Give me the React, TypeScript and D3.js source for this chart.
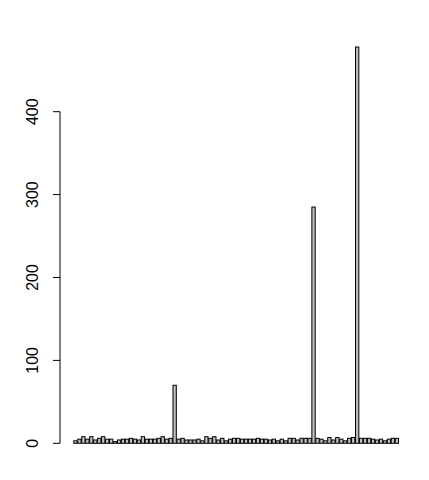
import React from "react";
import * as d3 from "d3";

const valuesA = [3, 5, 8, 5, 8, 4, 6, 8, 5, 5, 2, 4, 5, 5, 6, 5, 4, 8, 5, 5, 5, 6, 8, 5, 6];
const peak1 = [70];
const valuesB = [5, 6, 4, 4, 4, 5, 3, 8, 6, 8, 4, 6, 3, 5, 6, 6, 5, 5, 5, 5, 6, 5, 5, 4, 5, 3];
const valuesC = [5, 3, 6, 6, 4, 6, 6, 6];
const peak2 = [285];
const valuesD = [6, 5, 3, 7, 4, 7, 5, 3, 6, 7];
const peak3 = [478];
const valuesE = [6, 6, 6, 5, 4, 5, 3, 5, 6, 6];
const yTicks = [0, 100, 200, 300, 400];

const values = [...valuesA, ...peak1, ...valuesB, ...valuesC, ...peak2, ...valuesD, ...peak3, ...valuesE];

export default function App() {
  const n = values.length;
  const space = 0.2;
  const left = values.map((_, i) => space + i * (1 + space));
  const lo = left[0];
  const hi = left[n - 1] + 1;
  const ext = (hi - lo) * 0.04;
  const x = d3.scaleLinear().domain([lo - ext, hi + ext]).range([60.8, 411.5]);
  const y = d3.scaleLinear().domain([0, 400]).range([443.3, 111.7]);
  const axX = 60;
  return (
    <svg width={429} height={480} style={{ position: "absolute", left: 0, top: 0, background: "#fff" }}>
      <rect x={0} y={0} width={429} height={480} fill="#fff" />
      {values.map((v, i) => (
        <rect
          key={i}
          x={x(left[i])}
          y={y(v)}
          width={x(left[i] + 1) - x(left[i])}
          height={y(0) - y(v)}
          fill="#bebebe"
          stroke="#000"
          strokeWidth={1}
        />
      ))}
      <line x1={axX} x2={axX} y1={y(0)} y2={y(400)} stroke="#000" strokeWidth={1} />
      {yTicks.map((t) => (
        <g key={t}>
          <line x1={axX - 7} x2={axX} y1={y(t)} y2={y(t)} stroke="#000" strokeWidth={1} />
          <text
            transform={`translate(37.8,${y(t)}) rotate(-90)`}
            textAnchor="middle"
            fontFamily="Liberation Sans, Arial, sans-serif"
            fontSize={16}
            fill="#000"
          >
            {t}
          </text>
        </g>
      ))}
    </svg>
  );
}
